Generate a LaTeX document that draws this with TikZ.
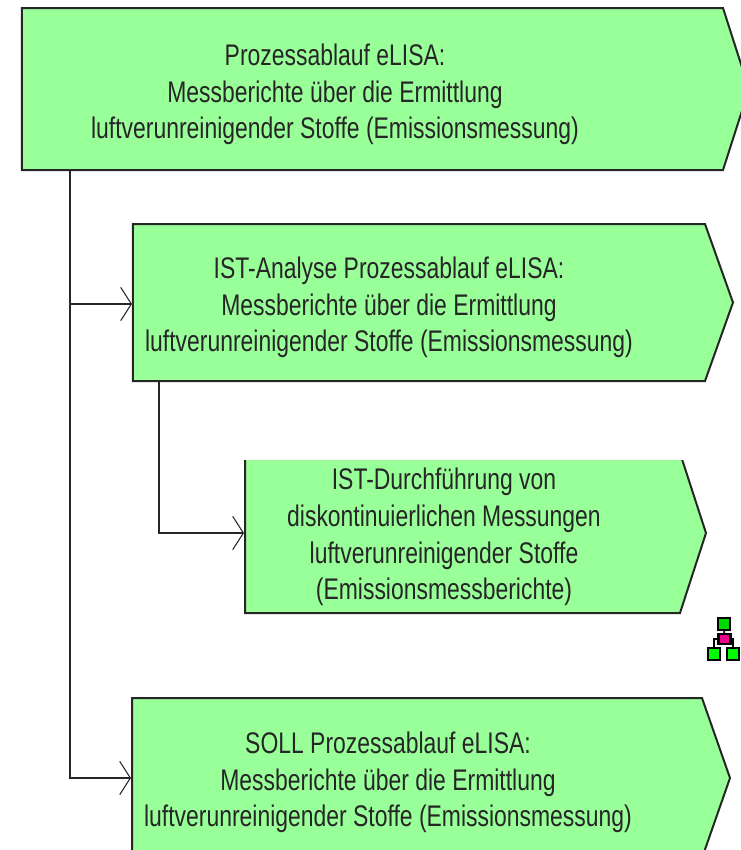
\documentclass[tikz,border=0pt]{standalone}
\usepackage{fontspec}
\setmainfont{Liberation Sans}
\usetikzlibrary{arrows.meta,shapes.symbols}

\definecolor{boxgreen}{HTML}{99FF99}

\tikzset{
  boxlabel/.style={align=center, inner sep=0pt, text=black!85, transform shape, yscale=1.3, font=\fontsize{17.2}{21.2}\selectfont},
  conn/.style={draw=black!85, line width=1.5pt, -{Straight Barb[length=8pt,width=25pt,line width=0.8pt]}},
  iconbox/.style={draw=black, line width=1.6pt, inner sep=0pt, minimum width=9pt, minimum height=9pt},
  iconline/.style={draw=black, line width=1.4pt}
}

\begin{document}
\begin{tikzpicture}[x=0.75pt, y=-0.75pt]

	\useasboundingbox (0,0) rectangle (740,850);
	\def\u{0.75pt};

	% boxes: name, left, right, top, bottom, length of the point
	\foreach \name/\xa/\xb/\ya/\yb/\tip in {main/22/749/8/170/26, ist/133/733/224/381/28, durch/245/706/453/613/26, soll/132/730/698/858/28} {
		\node [signal, signal to=east, draw=black!85, line width=1.5pt, fill=boxgreen, inner sep=0pt,
			minimum width={(\xb-\xa)*\u}, minimum height={(\yb-\ya)*\u},
			signal pointer angle={2*atan((\yb-\ya)/2/\tip)}]
			(\name) at ({(\xa+\xb-\tip)/2}, {(\ya+\yb)/2}) {};
	}
	% the third box is cut off at its top
	\fill [white] (235,445) rectangle (700,460);

	\node [boxlabel] (mainlabel) at (335, 94.5) {Prozessablauf eLISA:\\Messberichte über die Ermittlung\\luftverunreinigender Stoffe (Emissionsmessung)};
	\node [boxlabel] (istlabel) at (389, 307.5) {IST-Analyse Prozessablauf eLISA:\\Messberichte über die Ermittlung\\luftverunreinigender Stoffe (Emissionsmessung)};
	\node [boxlabel] (durchlabel) at (444, 537) {IST-Durchführung von\\diskontinuierlichen Messungen\\luftverunreinigender Stoffe\\(Emissionsmessberichte)};
	\node [boxlabel] (solllabel) at (388, 782.5) {SOLL Prozessablauf eLISA:\\Messberichte über die Ermittlung\\luftverunreinigender Stoffe (Emissionsmessung)};

	\coordinate (mainfoot) at (70,170);
	\coordinate (istfoot) at (159,381);
	\coordinate (branch) at (70,304);

	\draw [conn] (mainfoot) |- (soll.west);
	\draw [conn] (branch) -- (ist.west |- branch);
	\draw [conn] (istfoot) |- (durch.west);

	% small tree mark
	\node [iconbox, fill=green!85!black] (icontop) at (724,624) {};
	\node [iconbox, fill=magenta, minimum height=7pt] (iconmid) at (724.5,639) {};
	\node [iconbox, fill=green] (iconleft) at (714,654) {};
	\node [iconbox, fill=green] (iconright) at (733,654) {};
	\draw [iconline] (icontop) -- (iconmid);
	\draw [iconline] (iconmid.west) -| (iconleft.north);
	\draw [iconline] (iconmid.east) -| (iconright.north);

\end{tikzpicture}
\end{document}
